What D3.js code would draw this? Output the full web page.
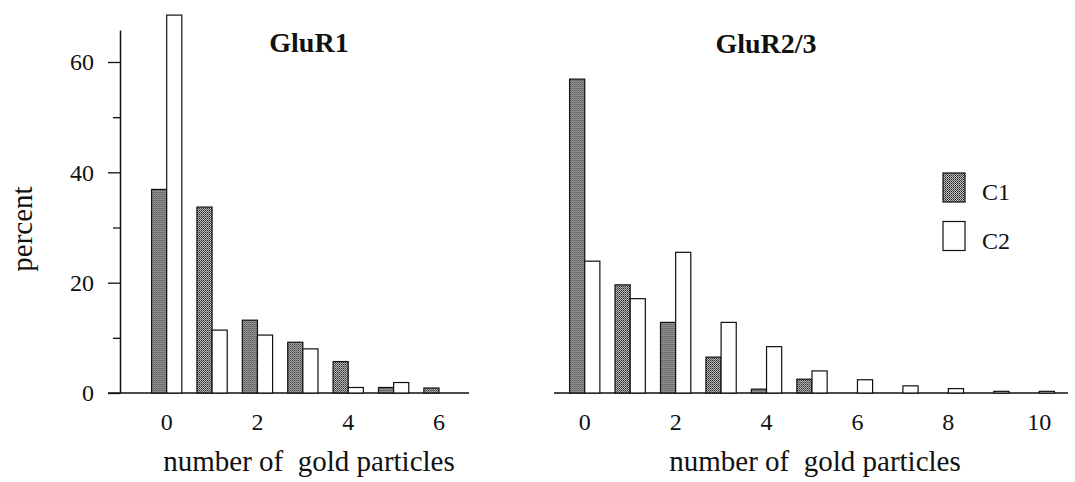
<!DOCTYPE html>
<html>
<head>
<meta charset="utf-8">
<script src="https://cdn.jsdelivr.net/npm/d3@7"></script>
<style>
  body { margin: 0; background: #fff; }
  svg { display: block; }
  svg text { font-family: "Liberation Serif", "Times New Roman", Times, "DejaVu Serif", serif !important; fill: #111; }
</style>
</head>
<body>
<svg id="chart" width="1075" height="482"></svg>
<script>
// GluR1 panel
var catsLeft = [0, 1, 2, 3, 4, 5, 6];
var c1Left = [36.9, 33.7, 13.2, 9.2, 5.7, 1.0, 0.9];
var c2Left = [68.5, 11.4, 10.5, 8.0, 1.0, 1.9, 0];

// GluR2/3 panel
var catsRight = [0, 1, 2, 3, 4, 5, 6, 7, 8, 9, 10];
var c1Right = [56.9, 19.6, 12.8, 6.5, 0.7, 2.5, 0, 0, 0, 0, 0];
var c2Right = [23.9, 17.1, 25.5, 12.8, 8.4, 4.0, 2.4, 1.3, 0.8, 0.3, 0.3];

var seriesNames = ["C1", "C2"];
var yTicks = [0, 10, 20, 30, 40, 50, 60];
var xLabelTicks = [0, 2, 4, 6, 8, 10];

var svg = d3.select("#chart");

// stipple pattern for C1 bars
var defs = svg.append("defs");
var pat = defs.append("pattern")
  .attr("id", "stipple")
  .attr("width", 2).attr("height", 2)
  .attr("patternUnits", "userSpaceOnUse");
pat.append("rect").attr("width", 2).attr("height", 2).attr("fill", "#c4c4c4");
pat.append("rect").attr("x", 0).attr("y", 0).attr("width", 1).attr("height", 1).attr("fill", "#1a1a1a");
pat.append("rect").attr("x", 1).attr("y", 1).attr("width", 1).attr("height", 1).attr("fill", "#555");

var y = d3.scaleLinear().domain([0, 65.8]).range([393, 30]);

function drawPanel(cats, c1, c2, range, base) {
  var x0 = d3.scaleBand().domain(cats).range(range)
    .paddingInner(1 / 3).paddingOuter(1 / 6);
  var x1 = d3.scaleBand().domain(seriesNames).range([0, x0.bandwidth()]);

  var rows = cats.map(function(c, i) { return {cat: c, C1: c1[i], C2: c2[i]}; });

  var g = svg.append("g");

  // baseline
  g.append("line")
    .attr("x1", base[0]).attr("x2", base[1])
    .attr("y1", y(0)).attr("y2", y(0))
    .attr("stroke", "#111").attr("stroke-width", 1.5);

  g.selectAll(".grp")
    .data(rows)
    .enter().append("g")
    .attr("transform", function(d) { return "translate(" + x0(d.cat) + ",0)"; })
    .selectAll("rect")
    .data(function(d) { return seriesNames.map(function(s) { return {s: s, v: d[s]}; }); })
    .enter().filter(function(d) { return d.v > 0; })
    .append("rect")
    .attr("x", function(d) { return x1(d.s); })
    .attr("y", function(d) { return y(d.v); })
    .attr("width", x1.bandwidth())
    .attr("height", function(d) { return y(0) - y(d.v); })
    .attr("fill", function(d) { return d.s === "C1" ? "url(#stipple)" : "#fff"; })
    .attr("stroke", "#111")
    .attr("stroke-width", 1.2);

  // x tick labels
  var ax = g.append("g")
    .attr("transform", "translate(0," + y(0) + ")")
    .call(d3.axisBottom(x0)
      .tickValues(xLabelTicks.filter(function(t) { return cats.indexOf(t) >= 0; }))
      .tickSize(0).tickPadding(20));
  ax.attr("font-family", null);
  ax.select(".domain").remove();
  ax.selectAll("text").style("font-size", "24px");
  return g;
}

drawPanel(catsLeft, c1Left, c2Left, [144, 461.7], [108, 469]);
drawPanel(catsRight, c1Right, c2Right, [562, 1062], [554, 1068]);

// y axis (left panel only)
var yAxis = svg.append("g")
  .attr("transform", "translate(120,0)")
  .call(d3.axisLeft(y).tickValues(yTicks).tickSize(12).tickSizeOuter(0).tickPadding(14));
yAxis.attr("font-family", null);
yAxis.select(".domain").attr("stroke", "#111").attr("stroke-width", 1.5);
yAxis.selectAll(".tick line").attr("stroke", "#111").attr("stroke-width", 1.3)
  .attr("x2", function(d) { return d % 20 === 0 ? -12 : -7; });
yAxis.selectAll(".tick text")
  .text(function(d) { return d % 20 === 0 ? d : ""; })
  .style("font-size", "24px");

// titles
svg.append("text").attr("x", 309).attr("y", 52).attr("text-anchor", "middle")
  .style("font-size", "28px").style("font-weight", "bold").text("GluR1");
svg.append("text").attr("x", 766).attr("y", 53).attr("text-anchor", "middle")
  .style("font-size", "28px").style("font-weight", "bold").text("GluR2/3");

// axis titles
svg.append("text").attr("transform", "translate(32,229) rotate(-90)")
  .attr("text-anchor", "middle").style("font-size", "29px").text("percent");
svg.append("text").attr("x", 309).attr("y", 471).attr("text-anchor", "middle")
  .style("font-size", "29px").style("white-space", "pre").text("number of  gold particles");
svg.append("text").attr("x", 815).attr("y", 471).attr("text-anchor", "middle")
  .style("font-size", "29px").style("white-space", "pre").text("number of  gold particles");

// legend
var legend = svg.append("g").attr("transform", "translate(943,173)");
var li = legend.selectAll("g").data(seriesNames).enter().append("g")
  .attr("transform", function(d, i) { return "translate(0," + i * 48.5 + ")"; });
li.append("rect").attr("width", 22).attr("height", 29)
  .attr("fill", function(d) { return d === "C1" ? "url(#stipple)" : "#fff"; })
  .attr("stroke", "#111").attr("stroke-width", 1.2);
li.append("text").attr("x", 39).attr("y", 27).style("font-size", "24px")
  .text(function(d) { return d; });
</script>
</body>
</html>
